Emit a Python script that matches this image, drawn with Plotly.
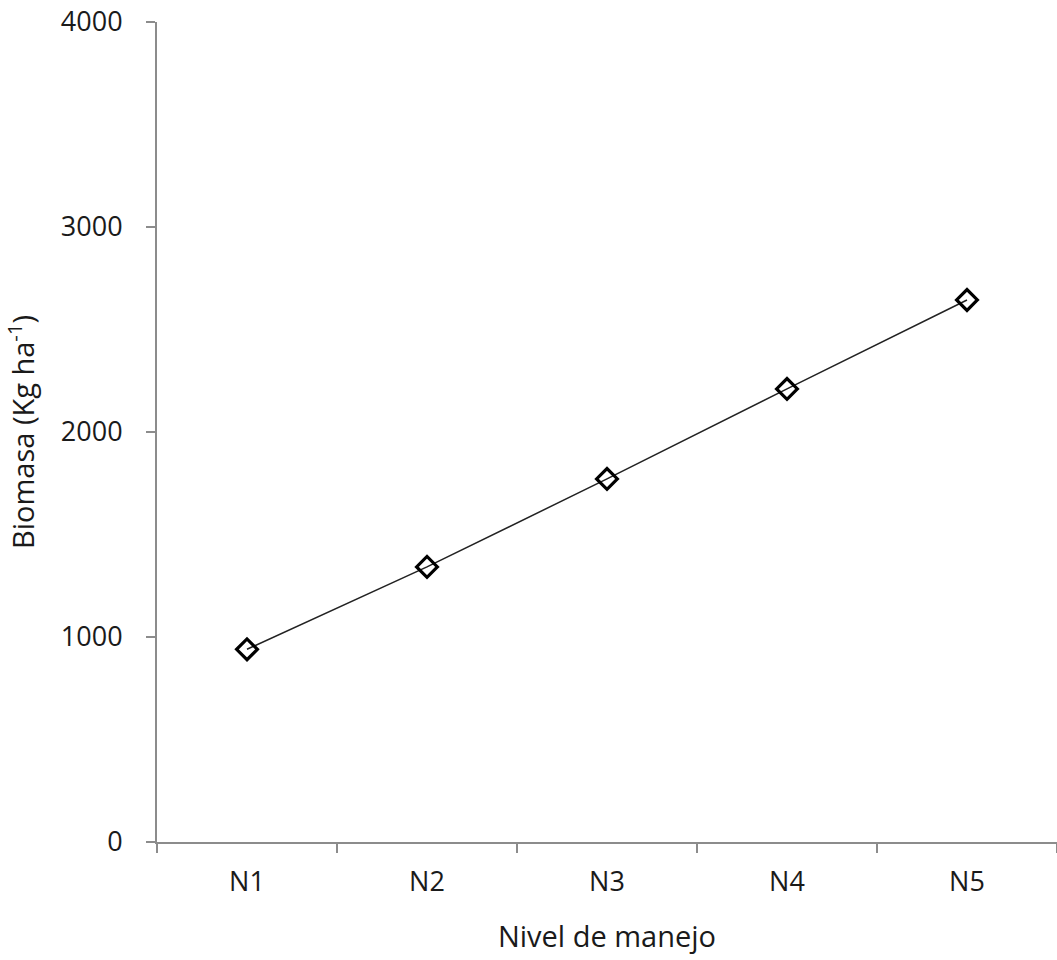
import plotly.graph_objects as go

categories = ["N1", "N2", "N3", "N4", "N5"]
biomasa = [940, 1342, 1771, 2210, 2644]
y_ticks = [0, 1000, 2000, 3000, 4000]

fig = go.Figure()
fig.add_trace(go.Scatter(
    x=categories, y=biomasa, mode="lines+markers",
    line=dict(color="#222222", width=1.5),
    marker=dict(symbol="diamond-open", size=16, color="black", line=dict(width=3.2, color="black")),
    showlegend=False,
))

axis_color = "#8c8c8c"
font_family = "Open Sans, Lato, sans-serif"
text_color = "#1a1a1a"
fig.update_layout(
    width=1057, height=960,
    paper_bgcolor="white", plot_bgcolor="white",
    margin=dict(l=157, r=0, t=22, b=118),
    font=dict(family=font_family, size=27, color=text_color),
    xaxis=dict(
        type="category", range=[-0.5, 4.5], tickson="boundaries",
        showline=True, linecolor=axis_color, linewidth=2,
        ticks="outside", ticklen=9, tickcolor=axis_color, tickwidth=1.5,
        showgrid=False, zeroline=False,
        ticklabelstandoff=15,
        tickfont=dict(size=27, family=font_family, color=text_color),
        title=dict(text="Nivel de manejo", font=dict(size=29, family=font_family, color=text_color), standoff=28),
    ),
    yaxis=dict(
        range=[0, 4000], tickvals=y_ticks,
        showline=True, linecolor=axis_color, linewidth=2,
        ticks="outside", ticklen=9, tickcolor=axis_color, tickwidth=1.5,
        showgrid=False, zeroline=False,
        ticklabelstandoff=18,
        tickfont=dict(size=27, family=font_family, color=text_color),
        title=dict(text="Biomasa (Kg ha<sup>-1</sup>)", font=dict(size=29, family=font_family, color=text_color), standoff=20),
    ),
)
fig.write_html(
    "out.html",
    config={"displayModeBar": False},
    post_script="document.body.style.margin='0px';document.body.style.overflow='hidden';",
)
